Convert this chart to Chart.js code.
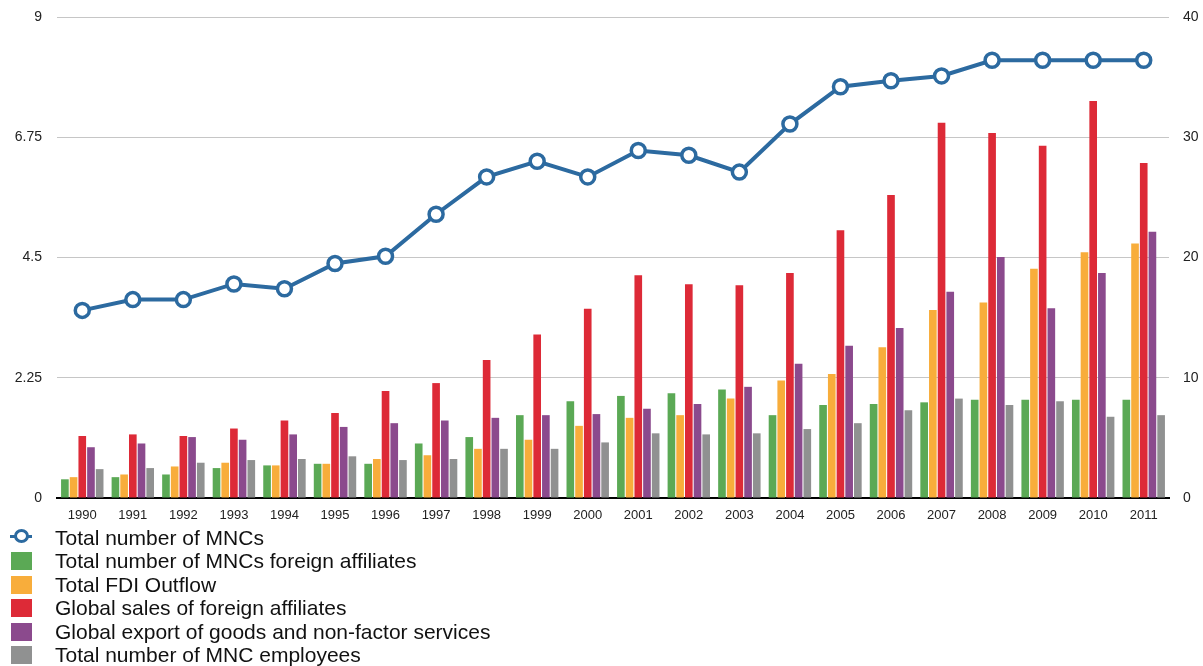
<!DOCTYPE html>
<html>
<head>
<meta charset="utf-8">
<script src="https://cdn.jsdelivr.net/npm/chart.js@4/dist/chart.umd.min.js"></script>
<style>
  html, body { margin: 0; padding: 0; background: #fff; }
  body { width: 1203px; height: 666px; overflow: hidden; font-family: "Liberation Sans", Arial, sans-serif; }
  #wrap { position: relative; width: 1203px; height: 528px; }
  #legend { position: absolute; left: 0; top: 526px; }
  .item { position: relative; height: 23.4px; line-height: 23.4px; font-size: 21px; color: #111; padding-left: 55px; white-space: nowrap; }
  .box { position: absolute; left: 11px; top: 3px; width: 21px; height: 18px; }
  .ring { position: absolute; left: 14px; top: 3px; width: 9px; height: 8px; border: 3px solid #2c6aa0; border-radius: 50%; background: #fff; }
  .stub { position: absolute; left: 10px; top: 9px; width: 22px; height: 3px; background: #2c6aa0; }
</style>
</head>
<body>
<div id="wrap"><canvas id="chart" width="1203" height="528"></canvas></div>
<div id="legend"></div>
<script>
const years = ['1990', '1991', '1992', '1993', '1994', '1995', '1996', '1997', '1998', '1999', '2000',
               '2001', '2002', '2003', '2004', '2005', '2006', '2007', '2008', '2009', '2010', '2011'];

// line, read on the right axis
const totalMNCs = [15.6, 16.5, 16.5, 17.8, 17.4, 19.5, 20.1, 23.6, 26.7, 28.0, 26.7,
                   28.9, 28.5, 27.1, 31.1, 34.2, 34.7, 35.1, 36.4, 36.4, 36.4, 36.4];

// bars, read on the left axis
const foreignAffiliates = [0.35, 0.39, 0.44, 0.56, 0.61, 0.64, 0.64, 1.02, 1.14, 1.55, 1.81,
                           1.91, 1.96, 2.03, 1.55, 1.74, 1.76, 1.79, 1.84, 1.84, 1.84, 1.84];
const fdiOutflow = [0.39, 0.44, 0.59, 0.66, 0.61, 0.64, 0.73, 0.80, 0.92, 1.09, 1.35,
                    1.50, 1.55, 1.86, 2.20, 2.32, 2.82, 3.52, 3.66, 4.29, 4.60, 4.76];
const globalSales = [1.16, 1.19, 1.16, 1.30, 1.45, 1.59, 2.00, 2.15, 2.58, 3.06, 3.54,
                     4.17, 4.00, 3.98, 4.21, 5.01, 5.67, 7.02, 6.83, 6.59, 7.43, 6.27];
const globalExport = [0.95, 1.02, 1.14, 1.09, 1.19, 1.33, 1.40, 1.45, 1.50, 1.55, 1.57,
                      1.67, 1.76, 2.08, 2.51, 2.85, 3.18, 3.86, 4.51, 3.55, 4.21, 4.98];
const mncEmployees = [0.54, 0.56, 0.66, 0.71, 0.73, 0.78, 0.71, 0.73, 0.92, 0.92, 1.04,
                      1.21, 1.19, 1.21, 1.29, 1.40, 1.64, 1.86, 1.74, 1.81, 1.52, 1.55];

const leftTicks = [0, 2.25, 4.5, 6.75, 9];
const rightTicks = [0, 10, 20, 30, 40];

const blue = '#2c6aa0';
const font = '"Liberation Sans", Arial, sans-serif';

function bars(label, data, color) {
  return {
    type: 'bar', label: label, data: data, backgroundColor: color,
    yAxisID: 'y', order: 1, barPercentage: 0.88, categoryPercentage: 0.86
  };
}

// fixed axis sizes, no extra room for the edge labels
function fitY(width) {
  return s => { s.width = width; s.paddingTop = 0; s.paddingBottom = 0; };
}

const chart = new Chart(document.getElementById('chart').getContext('2d'), {
  data: {
    labels: years,
    datasets: [
      {
        type: 'line', label: 'Total number of MNCs', data: totalMNCs, yAxisID: 'y1', order: 0,
        borderColor: blue, borderWidth: 4, pointRadius: 7, pointBorderWidth: 3.5,
        pointBackgroundColor: '#fff', pointBorderColor: blue, tension: 0
      },
      bars('Total number of MNCs foreign affiliates', foreignAffiliates, '#5ba955'),
      bars('Total FDI Outflow', fdiOutflow, '#f8ad3b'),
      bars('Global sales of foreign affiliates', globalSales, '#dd2a37'),
      bars('Global export of goods and non-factor services', globalExport, '#8b4a8d'),
      bars('Total number of MNC employees', mncEmployees, '#909191')
    ]
  },
  options: {
    responsive: false,
    animation: false,
    layout: { padding: { top: 17, left: 0, right: 0, bottom: 0 } },
    plugins: { legend: { display: false }, tooltip: { enabled: false } },
    scales: {
      x: {
        grid: { display: false, drawTicks: false },
        border: { color: '#000', width: 2 },
        ticks: { color: '#222', font: { family: font, size: 13 }, padding: 10, maxRotation: 0 },
        afterFit: s => { s.height = 30; s.paddingLeft = 0; s.paddingRight = 0; }
      },
      y: {
        position: 'left', min: 0, max: 9,
        grid: { color: '#c6c6c6', lineWidth: 1, drawTicks: false },
        border: { display: false },
        afterBuildTicks: s => { s.ticks = leftTicks.map(v => ({ value: v })); },
        ticks: { color: '#222', font: { family: font, size: 14 }, padding: 15, callback: v => String(v) },
        afterFit: fitY(57)
      },
      y1: {
        position: 'right', min: 0, max: 40,
        grid: { display: false, drawTicks: false },
        border: { display: false },
        afterBuildTicks: s => { s.ticks = rightTicks.map(v => ({ value: v })); },
        ticks: { color: '#222', font: { family: font, size: 14 }, padding: 14, callback: v => String(v) },
        afterFit: fitY(34)
      }
    }
  }
});

// legend as one column under the chart, built from the datasets
const legend = document.getElementById('legend');
chart.data.datasets.forEach(ds => {
  const row = document.createElement('div');
  row.className = 'item';
  if (ds.type === 'line') {
    row.innerHTML = '<span class="stub"></span><span class="ring"></span>';
  } else {
    row.innerHTML = '<span class="box" style="background:' + ds.backgroundColor + '"></span>';
  }
  row.appendChild(document.createTextNode(ds.label));
  legend.appendChild(row);
});
</script>
</body>
</html>
